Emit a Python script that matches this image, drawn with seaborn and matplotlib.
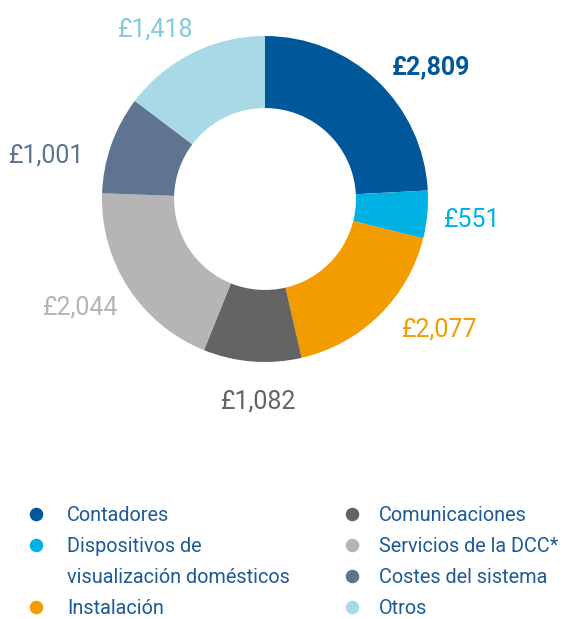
import matplotlib
matplotlib.use("Agg")
import matplotlib.pyplot as plt
import seaborn as sns

# data
categories = ["Contadores", "Dispositivos de\nvisualización domésticos", "Instalación",
              "Comunicaciones", "Servicios de la DCC*", "Costes del sistema", "Otros"]
value_labels = ["£2,809", "£551", "£2,077", "£1,082", "£2,044", "£1,001", "£1,418"]
# slice sizes as drawn in the original (degrees of the ring)
slice_degrees = [87, 17, 63, 35, 70, 35, 53]
colors = ["#00589A", "#00B2E3", "#F39C00", "#646464", "#B5B5B5", "#5F7490", "#A8D9E6"]
label_colors = ["#00589A", "#00B2E3", "#F39C00", "#646464", "#B5B5B5", "#5F7490", "#84C9DC"]

sns.set_style("white")
plt.rcParams['font.family'] = ['Roboto', 'DejaVu Sans']

W, H = 563, 619
fig = plt.figure(figsize=(W / 100, H / 100), dpi=100)

# donut axes: center at (265, 199) px, outer radius 163 px
cx, cy, R = 265, 199, 163
half = 250
ax = fig.add_axes([(cx - half) / W, (H - cy - half) / H, 2 * half / W, 2 * half / H])
ax.pie(slice_degrees, colors=colors, startangle=90, counterclock=False,
       wedgeprops=dict(width=0.442, linewidth=0))
L = half / R
ax.set_xlim(-L, L)
ax.set_ylim(-L, L)
ax.axis("off")

# overlay axes in pixel coordinates for labels and legend
lax = fig.add_axes([0, 0, 1, 1])
lax.set_xlim(0, W)
lax.set_ylim(H, 0)
lax.axis("off")

# value labels (center x, baseline y in px)
label_pos = [(431, 74), (472, 227), (440, 337), (259, 408), (81, 315), (47, 162), (156, 36)]
for i, txt in enumerate(value_labels):
    lax.text(label_pos[i][0], label_pos[i][1], txt, color=label_colors[i], fontsize=18,
             fontweight="bold" if i == 0 else "normal",
             ha="center", va="baseline")

# legend
col_x = [36, 352]
text_x = [67, 379]
base_y0, row_h = 521, 31
row = 0
for i, cat in enumerate(categories):
    col = 0 if i < 3 else 1
    if i == 3:
        row = 0
    y = base_y0 + row * row_h
    lax.scatter([col_x[col]], [y - 7], s=95, color=colors[i], linewidths=0)
    lines = cat.split("\n")
    for j, ln in enumerate(lines):
        lax.text(text_x[col], y + j * row_h, ln, fontsize=14.3, color="#1D5A98",
                 ha="left", va="baseline")
    row += len(lines)

fig.savefig("out.png", dpi=100)
